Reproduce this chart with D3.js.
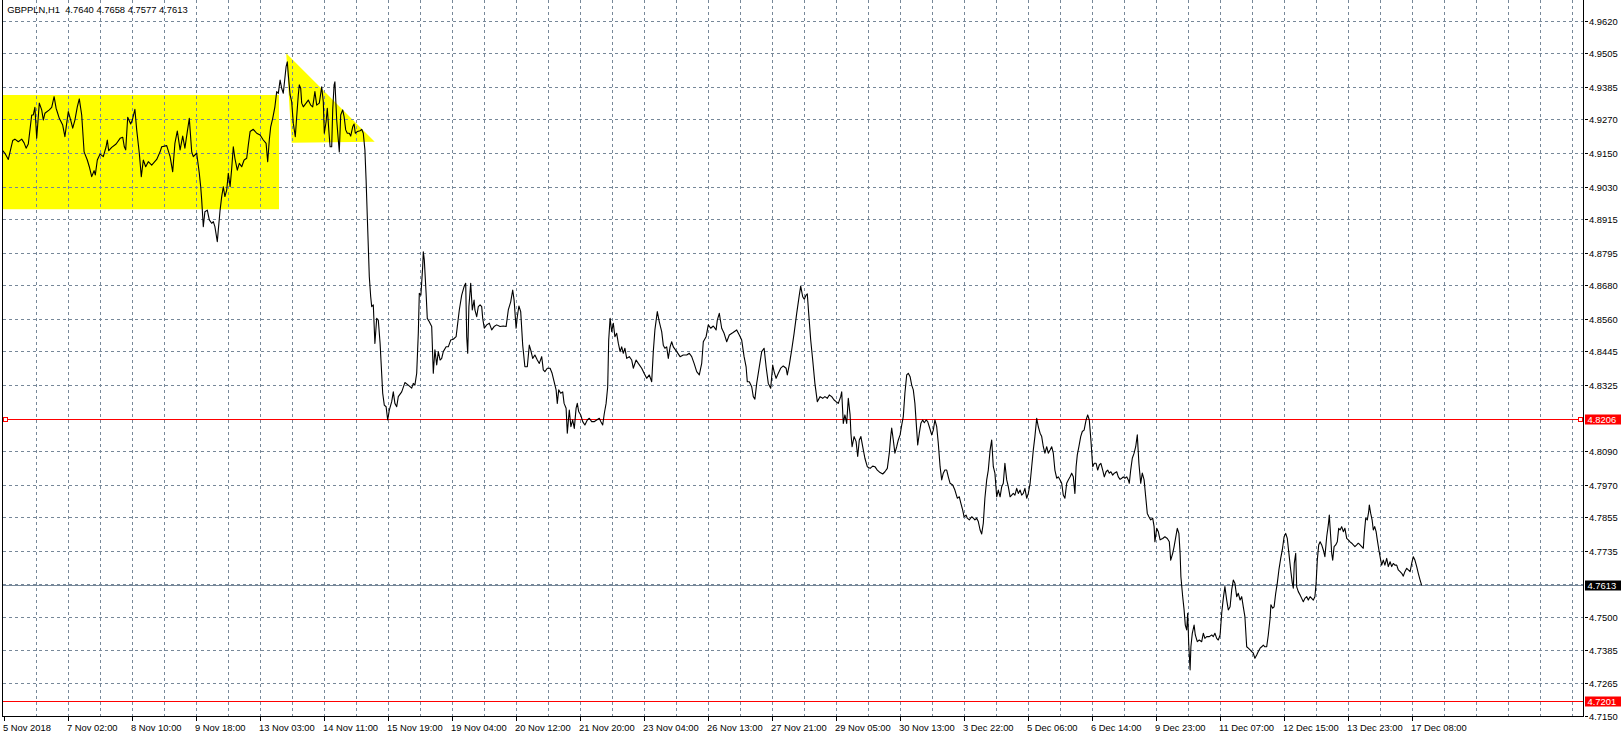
<!DOCTYPE html>
<html><head><meta charset="utf-8">
<script src="https://cdn.jsdelivr.net/npm/d3@7/dist/d3.min.js"></script>
<style>
html,body{margin:0;padding:0;background:#fff;}
svg{display:block;}
text{font-family:"Liberation Sans",Arial,sans-serif;}
</style></head>
<body>
<svg id="chart" width="1623" height="739"></svg>
<script>
// ---- DATA ----
const symbolTitle = "GBPPLN,H1  4.7640 4.7658 4.7577 4.7613";
// [bar index (H1 bars from first visible bar), close price]
const closeSeries = [[-0.5,4.9158],[0.6,4.9149],[2.3,4.9127],[4.5,4.9194],[5.6,4.9199],[7.3,4.9190],[9,4.9199],[10.2,4.9186],[11.2,4.9167],[12.3,4.9182],[14,4.9285],[14.8,4.9285],[15.6,4.9312],[16.5,4.9202],[17.8,4.9327],[19,4.9303],[19.8,4.9267],[20.6,4.9291],[22.8,4.9303],[24,4.9312],[25.2,4.9350],[26.2,4.9309],[27.8,4.9273],[29.5,4.9249],[30.6,4.9208],[32.3,4.9297],[33.5,4.9267],[34.5,4.9238],[35.6,4.9267],[36.8,4.9314],[37.8,4.9342],[39,4.9285],[40.2,4.9154],[41.8,4.9125],[42.8,4.9101],[44,4.9066],[45.2,4.9087],[45.8,4.9072],[46.8,4.9125],[48.2,4.9146],[49.8,4.9137],[51.2,4.9172],[51.8,4.9196],[52.5,4.9158],[54,4.9170],[56.2,4.9182],[58.2,4.9202],[59.5,4.9206],[60.3,4.9172],[61,4.9161],[62,4.9277],[63.5,4.9253],[64.3,4.9267],[65.6,4.9305],[66.5,4.9232],[67.8,4.9149],[68.8,4.9066],[69.8,4.9125],[71,4.9101],[72.3,4.9119],[74,4.9107],[76.5,4.9127],[78.2,4.9154],[79,4.9172],[81.5,4.9176],[83.2,4.9137],[84.5,4.9083],[85.6,4.9184],[86.8,4.9228],[88.2,4.9161],[89.5,4.9210],[90.6,4.9167],[91.8,4.9226],[92.8,4.9273],[94,4.9154],[94.8,4.9137],[96.5,4.9149],[97.8,4.9078],[98.5,4.9030],[99,4.8983],[99.8,4.8888],[100.6,4.8941],[101.8,4.8947],[102.8,4.8912],[104,4.8900],[104.8,4.8906],[105.6,4.8888],[106.8,4.8835],[107.3,4.8876],[108.2,4.8947],[109,4.8995],[109.8,4.9030],[110.6,4.8995],[111.5,4.9018],[112.3,4.9078],[113.2,4.9030],[114,4.9095],[114.8,4.9172],[115.6,4.9131],[116.8,4.9089],[117.8,4.9113],[119,4.9101],[120.2,4.9125],[121.5,4.9131],[122.3,4.9178],[123.2,4.9226],[124.8,4.9234],[126.5,4.9220],[128.2,4.9214],[129.8,4.9196],[131.2,4.9184],[132,4.9119],[132.8,4.9196],[133.5,4.9243],[134.5,4.9273],[135.6,4.9314],[136.5,4.9368],[137.3,4.9362],[138.2,4.9409],[139,4.9380],[139.8,4.9362],[141.2,4.9457],[141.8,4.9474],[142.3,4.9427],[143.2,4.9356],[144,4.9332],[144.8,4.9255],[145.8,4.9208],[146.5,4.9279],[147.3,4.9356],[147.8,4.9392],[148.5,4.9380],[149,4.9327],[149.8,4.9314],[151.2,4.9327],[152.3,4.9338],[153.5,4.9320],[154.5,4.9314],[155.6,4.9368],[156.5,4.9320],[157.8,4.9327],[159,4.9385],[159.8,4.9332],[160.3,4.9220],[161.2,4.9261],[161.8,4.9309],[162.6,4.9226],[163.2,4.9172],[164,4.9172],[164.5,4.9303],[165.2,4.9392],[165.6,4.9403],[166.5,4.9267],[167.3,4.9196],[167.8,4.9154],[168.5,4.9285],[169.5,4.9303],[170.2,4.9279],[171,4.9232],[171.8,4.9220],[172.8,4.9220],[173.5,4.9210],[174.5,4.9243],[175.2,4.9253],[175.8,4.9220],[176.8,4.9226],[178.2,4.9229],[179,4.9234],[179.8,4.9220],[180.6,4.9161],[181.2,4.9054],[181.8,4.8923],[182.3,4.8817],[182.8,4.8710],[183.5,4.8639],[184,4.8604],[184.8,4.8610],[185.6,4.8473],[186.5,4.8562],[187.3,4.8556],[188.2,4.8473],[189.5,4.8296],[190.3,4.8254],[191.2,4.8248],[192,4.8201],[192.8,4.8236],[194,4.8266],[194.8,4.8301],[195.6,4.8260],[196.5,4.8248],[197.3,4.8284],[199,4.8301],[200.6,4.8334],[202.3,4.8325],[204,4.8314],[204.8,4.8331],[205.6,4.8325],[206.5,4.8367],[207.3,4.8509],[207.8,4.8651],[208.6,4.8645],[209.5,4.8746],[209.8,4.8799],[210.3,4.8770],[211.2,4.8651],[211.8,4.8562],[212.8,4.8550],[214,4.8533],[214.8,4.8367],[215.6,4.8450],[216.5,4.8397],[217.3,4.8444],[218.2,4.8414],[219,4.8420],[219.8,4.8444],[221.2,4.8461],[222.3,4.8461],[223.5,4.8485],[224.8,4.8488],[226.2,4.8497],[226.8,4.8533],[227.8,4.8592],[229,4.8645],[230.2,4.8675],[231,4.8687],[231.5,4.8497],[232,4.8438],[232.6,4.8604],[233.5,4.8687],[234.3,4.8592],[235.2,4.8627],[235.6,4.8592],[236.5,4.8568],[237.3,4.8604],[238.2,4.8610],[239,4.8604],[239.5,4.8562],[240.3,4.8527],[241.5,4.8539],[242.8,4.8545],[244,4.8521],[245.2,4.8533],[246.5,4.8539],[248.2,4.8533],[249.8,4.8535],[251.2,4.8533],[252.3,4.8592],[253.5,4.8621],[254.5,4.8663],[255.2,4.8627],[256.2,4.8527],[256.8,4.8568],[257.6,4.8606],[258.5,4.8586],[259.5,4.8467],[260.6,4.8390],[261.8,4.8390],[262.8,4.8467],[263.5,4.8450],[264.5,4.8420],[265.6,4.8432],[266.8,4.8414],[267.8,4.8402],[269,4.8426],[269.8,4.8379],[270.6,4.8373],[271.8,4.8385],[273.2,4.8385],[274.2,4.8367],[275.2,4.8337],[276.2,4.8308],[276.8,4.8260],[277.5,4.8308],[278.5,4.8296],[279.5,4.8301],[280.2,4.8260],[281.2,4.8243],[281.8,4.8154],[282.8,4.8236],[283.6,4.8177],[284.5,4.8201],[285.3,4.8171],[286.2,4.8243],[286.8,4.8260],[287.5,4.8231],[288.5,4.8219],[289.5,4.8195],[290.6,4.8183],[291.8,4.8201],[292.8,4.8207],[294,4.8195],[295.2,4.8195],[296.5,4.8201],[297.8,4.8207],[298.6,4.8195],[299.5,4.8183],[300.3,4.8224],[301.2,4.8260],[302,4.8319],[302.5,4.8485],[303.2,4.8562],[304,4.8515],[304.8,4.8545],[305.6,4.8497],[306.5,4.8509],[307.3,4.8474],[308.2,4.8444],[309,4.8461],[309.8,4.8438],[310.6,4.8456],[311.5,4.8420],[312.8,4.8426],[314,4.8414],[314.8,4.8385],[316.2,4.8414],[317.3,4.8402],[319,4.8385],[320.2,4.8367],[321.5,4.8349],[322.8,4.8361],[324,4.8337],[324.8,4.8444],[325.6,4.8521],[326.8,4.8586],[327.8,4.8550],[329,4.8515],[329.8,4.8467],[330.6,4.8456],[331.5,4.8461],[332.3,4.8420],[333.2,4.8461],[334,4.8479],[334.8,4.8461],[336.5,4.8444],[338.2,4.8426],[339.8,4.8432],[341.5,4.8432],[342.8,4.8438],[344,4.8426],[345.2,4.8402],[346.5,4.8373],[347.8,4.8361],[349,4.8402],[349.8,4.8479],[351.2,4.8497],[352.3,4.8539],[353.5,4.8527],[354.8,4.8535],[356.2,4.8521],[356.8,4.8556],[357.8,4.8580],[359,4.8527],[360.2,4.8509],[361.5,4.8479],[362.8,4.8503],[364.5,4.8511],[366.5,4.8521],[367.8,4.8503],[369,4.8485],[370.2,4.8426],[371.2,4.8390],[371.8,4.8337],[372.8,4.8337],[374,4.8319],[374.8,4.8284],[375.6,4.8275],[376.5,4.8331],[377.8,4.8390],[379,4.8444],[380.2,4.8456],[381.2,4.8390],[382.3,4.8331],[383.5,4.8314],[384.5,4.8396],[385.2,4.8373],[386.2,4.8349],[387.3,4.8367],[388.5,4.8385],[389.8,4.8393],[391.2,4.8385],[391.8,4.8361],[392.8,4.8397],[394,4.8450],[395.2,4.8509],[396.5,4.8580],[397.8,4.8645],[398.5,4.8677],[399.5,4.8639],[400.3,4.8630],[401.2,4.8645],[401.8,4.8649],[402.5,4.8580],[403.5,4.8485],[404.5,4.8414],[405.6,4.8331],[406.8,4.8266],[408.2,4.8284],[409.5,4.8278],[410.6,4.8284],[411.8,4.8278],[412.8,4.8290],[414,4.8284],[415.2,4.8272],[416.2,4.8266],[417.3,4.8260],[418.5,4.8284],[419,4.8301],[419.8,4.8189],[420.6,4.8219],[421.5,4.8189],[422.3,4.8278],[423.2,4.8219],[423.6,4.8154],[424.2,4.8106],[425.2,4.8142],[426.2,4.8124],[427,4.8071],[427.8,4.8130],[428.6,4.8142],[429.5,4.8106],[430.6,4.8065],[431.8,4.8035],[433.2,4.8029],[434.5,4.8037],[435.6,4.8035],[436.8,4.8023],[438.2,4.8014],[439.5,4.8009],[440.6,4.8017],[441.8,4.8029],[442.8,4.8083],[443.5,4.8142],[444,4.8172],[444.8,4.8130],[445.6,4.8083],[446.5,4.8106],[447.3,4.8130],[448.2,4.8148],[449,4.8183],[449.8,4.8213],[450.6,4.8296],[451.5,4.8361],[452.3,4.8367],[453.2,4.8355],[454,4.8325],[454.8,4.8308],[455.6,4.8260],[456.5,4.8165],[457,4.8112],[457.8,4.8154],[458.6,4.8189],[459.5,4.8201],[460.3,4.8191],[461.2,4.8201],[462,4.8195],[462.8,4.8177],[464,4.8148],[464.8,4.8165],[465.6,4.8201],[466.5,4.8177],[467.3,4.8118],[468.2,4.8035],[469,4.7988],[469.8,4.8012],[470.6,4.8023],[471.5,4.8023],[472.3,4.7999],[473.2,4.7976],[474.5,4.7970],[475.6,4.7952],[476.8,4.7923],[477.8,4.7928],[478.6,4.7905],[479.5,4.7881],[480.2,4.7857],[481.2,4.7863],[481.8,4.7852],[482.8,4.7846],[484,4.7857],[484.8,4.7852],[485.6,4.7846],[486.5,4.7852],[487.3,4.7840],[488.2,4.7810],[489,4.7796],[489.8,4.7834],[490.6,4.7923],[491.5,4.7988],[492.3,4.8023],[493.2,4.8094],[494,4.8130],[494.8,4.8035],[495.6,4.8012],[496.5,4.7928],[497.3,4.7952],[498.2,4.7928],[499,4.7964],[499.8,4.7976],[500.6,4.8047],[501.5,4.7988],[502.3,4.7964],[503.2,4.7928],[504,4.7934],[504.8,4.7940],[505.6,4.7934],[506.5,4.7958],[507.3,4.7940],[508.2,4.7952],[509,4.7934],[509.8,4.7940],[510.6,4.7958],[511.5,4.7923],[512.3,4.7940],[513.2,4.7976],[514,4.8035],[514.8,4.8094],[515.6,4.8142],[516.5,4.8207],[517.3,4.8177],[518.2,4.8154],[519,4.8142],[519.8,4.8106],[520.6,4.8083],[521.5,4.8106],[522.3,4.8083],[523.2,4.8094],[524,4.8106],[524.8,4.8083],[525.6,4.8023],[526.5,4.7994],[527.3,4.7999],[528.2,4.7988],[529,4.7976],[529.8,4.7934],[530.6,4.7923],[531.5,4.7976],[532.3,4.7988],[533.2,4.7999],[534,4.8012],[534.8,4.7999],[535.6,4.7940],[536.2,4.8035],[536.8,4.8077],[537.6,4.8106],[538.5,4.8142],[539.3,4.8160],[540.2,4.8165],[541.2,4.8201],[542,4.8219],[542.8,4.8201],[543.6,4.8130],[544.5,4.8035],[545.3,4.8047],[546.2,4.8047],[547,4.8023],[547.8,4.8041],[548.6,4.8047],[549.5,4.8023],[550.3,4.7999],[551.2,4.8017],[552,4.8023],[552.8,4.8012],[553.6,4.8017],[554.5,4.8005],[555.3,4.8012],[556.5,4.8017],[557.3,4.7999],[558.2,4.7990],[559,4.7994],[559.8,4.7999],[560.6,4.7994],[561.5,4.7999],[562.3,4.7988],[562.8,4.7976],[563.5,4.8023],[564.3,4.8065],[565.2,4.8083],[566,4.8106],[566.8,4.8148],[567.6,4.8047],[568.5,4.7976],[569.3,4.8012],[570.2,4.7988],[571,4.7928],[571.8,4.7869],[572.6,4.7857],[573.5,4.7846],[574.5,4.7852],[575.2,4.7822],[575.6,4.7768],[576.5,4.7816],[577.3,4.7804],[578.2,4.7775],[579.5,4.7780],[580.6,4.7786],[581.8,4.7780],[582.8,4.7768],[583.5,4.7703],[584.5,4.7727],[585.2,4.7751],[586.2,4.7792],[586.8,4.7816],[587.6,4.7798],[588.2,4.7727],[588.6,4.7644],[589.5,4.7573],[590.2,4.7526],[590.8,4.7472],[591.5,4.7455],[592,4.7514],[592.5,4.7407],[593.2,4.7313],[593.6,4.7395],[594.3,4.7443],[595.2,4.7472],[595.8,4.7437],[596.8,4.7413],[597.8,4.7419],[599,4.7413],[599.8,4.7443],[600.6,4.7425],[601.5,4.7431],[602.8,4.7431],[604,4.7437],[604.8,4.7431],[605.6,4.7443],[606.5,4.7425],[607.3,4.7419],[608.2,4.7437],[609,4.7514],[609.8,4.7567],[610.6,4.7609],[611.5,4.7561],[612.3,4.7526],[613.2,4.7537],[614,4.7597],[614.8,4.7632],[615.6,4.7621],[616.5,4.7573],[617.3,4.7585],[618.2,4.7561],[619,4.7573],[619.8,4.7537],[620.6,4.7502],[621.5,4.7395],[622.3,4.7390],[623.2,4.7384],[624,4.7378],[624.8,4.7372],[625.6,4.7354],[626.5,4.7366],[627.3,4.7378],[628.2,4.7390],[629,4.7395],[629.8,4.7401],[630.6,4.7395],[631.5,4.7395],[632.3,4.7437],[633.2,4.7497],[633.6,4.7544],[634.5,4.7532],[635.2,4.7537],[636,4.7585],[636.8,4.7621],[637.6,4.7668],[638.5,4.7709],[639.3,4.7739],[640.2,4.7786],[641,4.7798],[641.8,4.7780],[642.6,4.7727],[643.5,4.7668],[644.3,4.7621],[644.8,4.7603],[645.3,4.7692],[646,4.7727],[646.5,4.7608],[647.3,4.7591],[648.2,4.7579],[649,4.7567],[649.8,4.7555],[650.6,4.7567],[651.5,4.7573],[652.3,4.7561],[653.2,4.7573],[654,4.7567],[654.8,4.7561],[655.6,4.7573],[656.2,4.7621],[656.8,4.7703],[657.5,4.7757],[658.2,4.7768],[659,4.7757],[659.8,4.7739],[660.6,4.7715],[661.5,4.7786],[662.3,4.7828],[662.8,4.7863],[663.5,4.7786],[664,4.7727],[664.5,4.7703],[665.2,4.7751],[666,4.7757],[666.8,4.7768],[667.5,4.7816],[668.2,4.7810],[669,4.7822],[669.8,4.7804],[670.6,4.7816],[671.5,4.7780],[672.3,4.7775],[673.2,4.7768],[674,4.7763],[674.8,4.7757],[675.6,4.7751],[676.5,4.7757],[677.3,4.7763],[678.2,4.7757],[679,4.7751],[679.8,4.7745],[680.3,4.7798],[681,4.7852],[681.8,4.7846],[682.5,4.7875],[682.8,4.7899],[683.5,4.7869],[684.2,4.7846],[684.8,4.7810],[685.5,4.7822],[686.2,4.7804],[686.8,4.7775],[687.6,4.7739],[688.5,4.7703],[689,4.7685],[689.8,4.7703],[690.6,4.7685],[691.5,4.7709],[692.3,4.7680],[693.2,4.7697],[694,4.7680],[694.8,4.7691],[695.6,4.7685],[696.5,4.7685],[697.3,4.7668],[698.2,4.7662],[699,4.7656],[699.8,4.7646],[700.6,4.7662],[701.5,4.7674],[702.3,4.7668],[703.2,4.7662],[704,4.7691],[704.8,4.7715],[705.6,4.7703],[706.5,4.7680],[707.3,4.7656],[708.2,4.7632],[709,4.7613]];

const yTickLabels = ["4.9620","4.9505","4.9385","4.9270","4.9150","4.9030","4.8915","4.8795","4.8680","4.8560","4.8445","4.8325","4.8090","4.7970","4.7855","4.7735","4.7500","4.7385","4.7265","4.7150"];
const hiddenGridLevels = [4.8206, 4.7619];   // grid lines covered by price-line labels
const xTickLabels = ["5 Nov 2018","7 Nov 02:00","8 Nov 10:00","9 Nov 18:00","13 Nov 03:00","14 Nov 11:00","15 Nov 19:00","19 Nov 04:00","20 Nov 12:00","21 Nov 20:00","23 Nov 04:00","26 Nov 13:00","27 Nov 21:00","29 Nov 05:00","30 Nov 13:00","3 Dec 22:00","5 Dec 06:00","6 Dec 14:00","9 Dec 23:00","11 Dec 07:00","12 Dec 15:00","13 Dec 23:00","17 Dec 08:00"];
const barsPerLabel = 32, barsPerGrid = 16;

const levelLines = [
  {price: 4.8206, color: "#ff0000", label: "4.8206", box: "#ff0000", markers: true},
  {price: 4.7613, color: "#778899", label: "4.7613", box: "#000000", markers: false},
  {price: 4.7201, color: "#ff0000", label: "4.7201", box: "#ff0000", markers: false}
];
// yellow objects: rectangle [bar1, price1, bar2, price2] and triangle vertices
const rectangleObj = [-2, 4.9356, 137.65, 4.8950];
const triangleObj = [[141.25, 4.9504], [144, 4.9186], [185.5, 4.9190]];

// ---- DRAW ----
const svg = d3.select("#chart");
const plotL = 2.5, plotR = 1583.5, plotT = 0, plotB = 716.5;

const x = d3.scaleLinear().domain([0, 790]).range([3.7, 1583.7]);
const y = d3.scaleLinear().domain([4.96936, 4.71454]).range([0, 717]);
const snap = v => Math.round(v) + 0.5;

svg.append("defs").append("clipPath").attr("id", "plotclip")
  .append("rect").attr("x", plotL + 0.5).attr("y", plotT).attr("width", plotR - plotL - 1).attr("height", plotB - plotT);

const plot = svg.append("g").attr("clip-path", "url(#plotclip)");

// yellow rectangle
plot.append("rect")
  .attr("x", x(rectangleObj[0])).attr("y", y(rectangleObj[1]))
  .attr("width", x(rectangleObj[2]) - x(rectangleObj[0]))
  .attr("height", y(rectangleObj[3]) - y(rectangleObj[1]))
  .attr("fill", "#ffff00");
// yellow triangle
plot.append("path")
  .attr("d", d3.line().x(d => x(d[0])).y(d => y(d[1]))(triangleObj) + "Z")
  .attr("fill", "#ffff00");

// grid
const gridColor = "#778899";
const gridLevels = yTickLabels.map(Number).concat(hiddenGridLevels);
plot.append("g").selectAll("line").data(gridLevels).join("line")
  .attr("x1", plotL).attr("x2", plotR)
  .attr("y1", d => snap(y(d))).attr("y2", d => snap(y(d)))
  .attr("stroke", gridColor).attr("stroke-width", 1).attr("stroke-dasharray", "3,3")
  .attr("shape-rendering", "crispEdges");
const gridBars = d3.range(barsPerGrid, 790, barsPerGrid);
plot.append("g").selectAll("line").data(gridBars).join("line")
  .attr("x1", d => snap(x(d))).attr("x2", d => snap(x(d)))
  .attr("y1", plotT).attr("y2", plotB)
  .attr("stroke", gridColor).attr("stroke-width", 1).attr("stroke-dasharray", "3,3")
  .attr("shape-rendering", "crispEdges");

// level lines
levelLines.forEach(l => {
  plot.append("line")
    .attr("x1", plotL).attr("x2", plotR)
    .attr("y1", snap(y(l.price))).attr("y2", snap(y(l.price)))
    .attr("stroke", l.color).attr("stroke-width", 1).attr("shape-rendering", "crispEdges");
});

// price line
plot.append("path")
  .datum(closeSeries)
  .attr("d", d3.line().x(d => x(d[0])).y(d => y(d[1])))
  .attr("fill", "none").attr("stroke", "#000").attr("stroke-width", 1.1)
  .attr("stroke-linejoin", "round");

// markers on the 4.8206 level
levelLines.filter(l => l.markers).forEach(l => {
  const yy = snap(y(l.price));
  [5.5, 1580.5].forEach(cx => {
    svg.append("rect").attr("x", cx - 2).attr("y", yy - 2).attr("width", 4).attr("height", 4)
      .attr("fill", "#fff").attr("stroke", l.color).attr("stroke-width", 1).attr("shape-rendering", "crispEdges");
  });
});

// frame
const frame = svg.append("g").attr("stroke", "#000").attr("stroke-width", 1).attr("shape-rendering", "crispEdges");
frame.append("line").attr("x1", plotL).attr("x2", plotL).attr("y1", 0).attr("y2", plotB);
frame.append("line").attr("x1", plotR).attr("x2", plotR).attr("y1", 0).attr("y2", plotB);
frame.append("line").attr("x1", plotL).attr("x2", plotR).attr("y1", plotB).attr("y2", plotB);

// y axis labels
const fontSize = 9.4;
const yAx = svg.append("g");
yTickLabels.forEach(t => {
  const yy = snap(y(+t));
  yAx.append("line").attr("x1", plotR + 1).attr("x2", plotR + 4).attr("y1", yy).attr("y2", yy)
    .attr("stroke", "#000").attr("shape-rendering", "crispEdges");
  yAx.append("text").attr("x", 1589).attr("y", yy + 3.4).attr("font-size", fontSize).attr("fill", "#000").text(t);
});
levelLines.forEach(l => {
  const yy = snap(y(l.price));
  yAx.append("rect").attr("x", 1585).attr("y", yy - 5).attr("width", 36).attr("height", 10).attr("fill", l.box);
  yAx.append("text").attr("x", 1587.5).attr("y", yy + 3.4).attr("font-size", fontSize).attr("fill", "#fff").text(l.label);
});

// x axis labels
const xAx = svg.append("g");
xTickLabels.forEach((t, i) => {
  const xx = snap(x(i * barsPerLabel));
  xAx.append("line").attr("x1", xx).attr("x2", xx).attr("y1", plotB).attr("y2", plotB + 4)
    .attr("stroke", "#000").attr("shape-rendering", "crispEdges");
  xAx.append("text").attr("x", xx - 1.5).attr("y", 730.5).attr("font-size", fontSize).attr("fill", "#000").text(t);
});

// title
svg.append("text").attr("x", 7.3).attr("y", 13).attr("font-size", fontSize).attr("fill", "#000")
  .attr("xml:space", "preserve").style("white-space", "pre").text(symbolTitle);
</script>
</body></html>
